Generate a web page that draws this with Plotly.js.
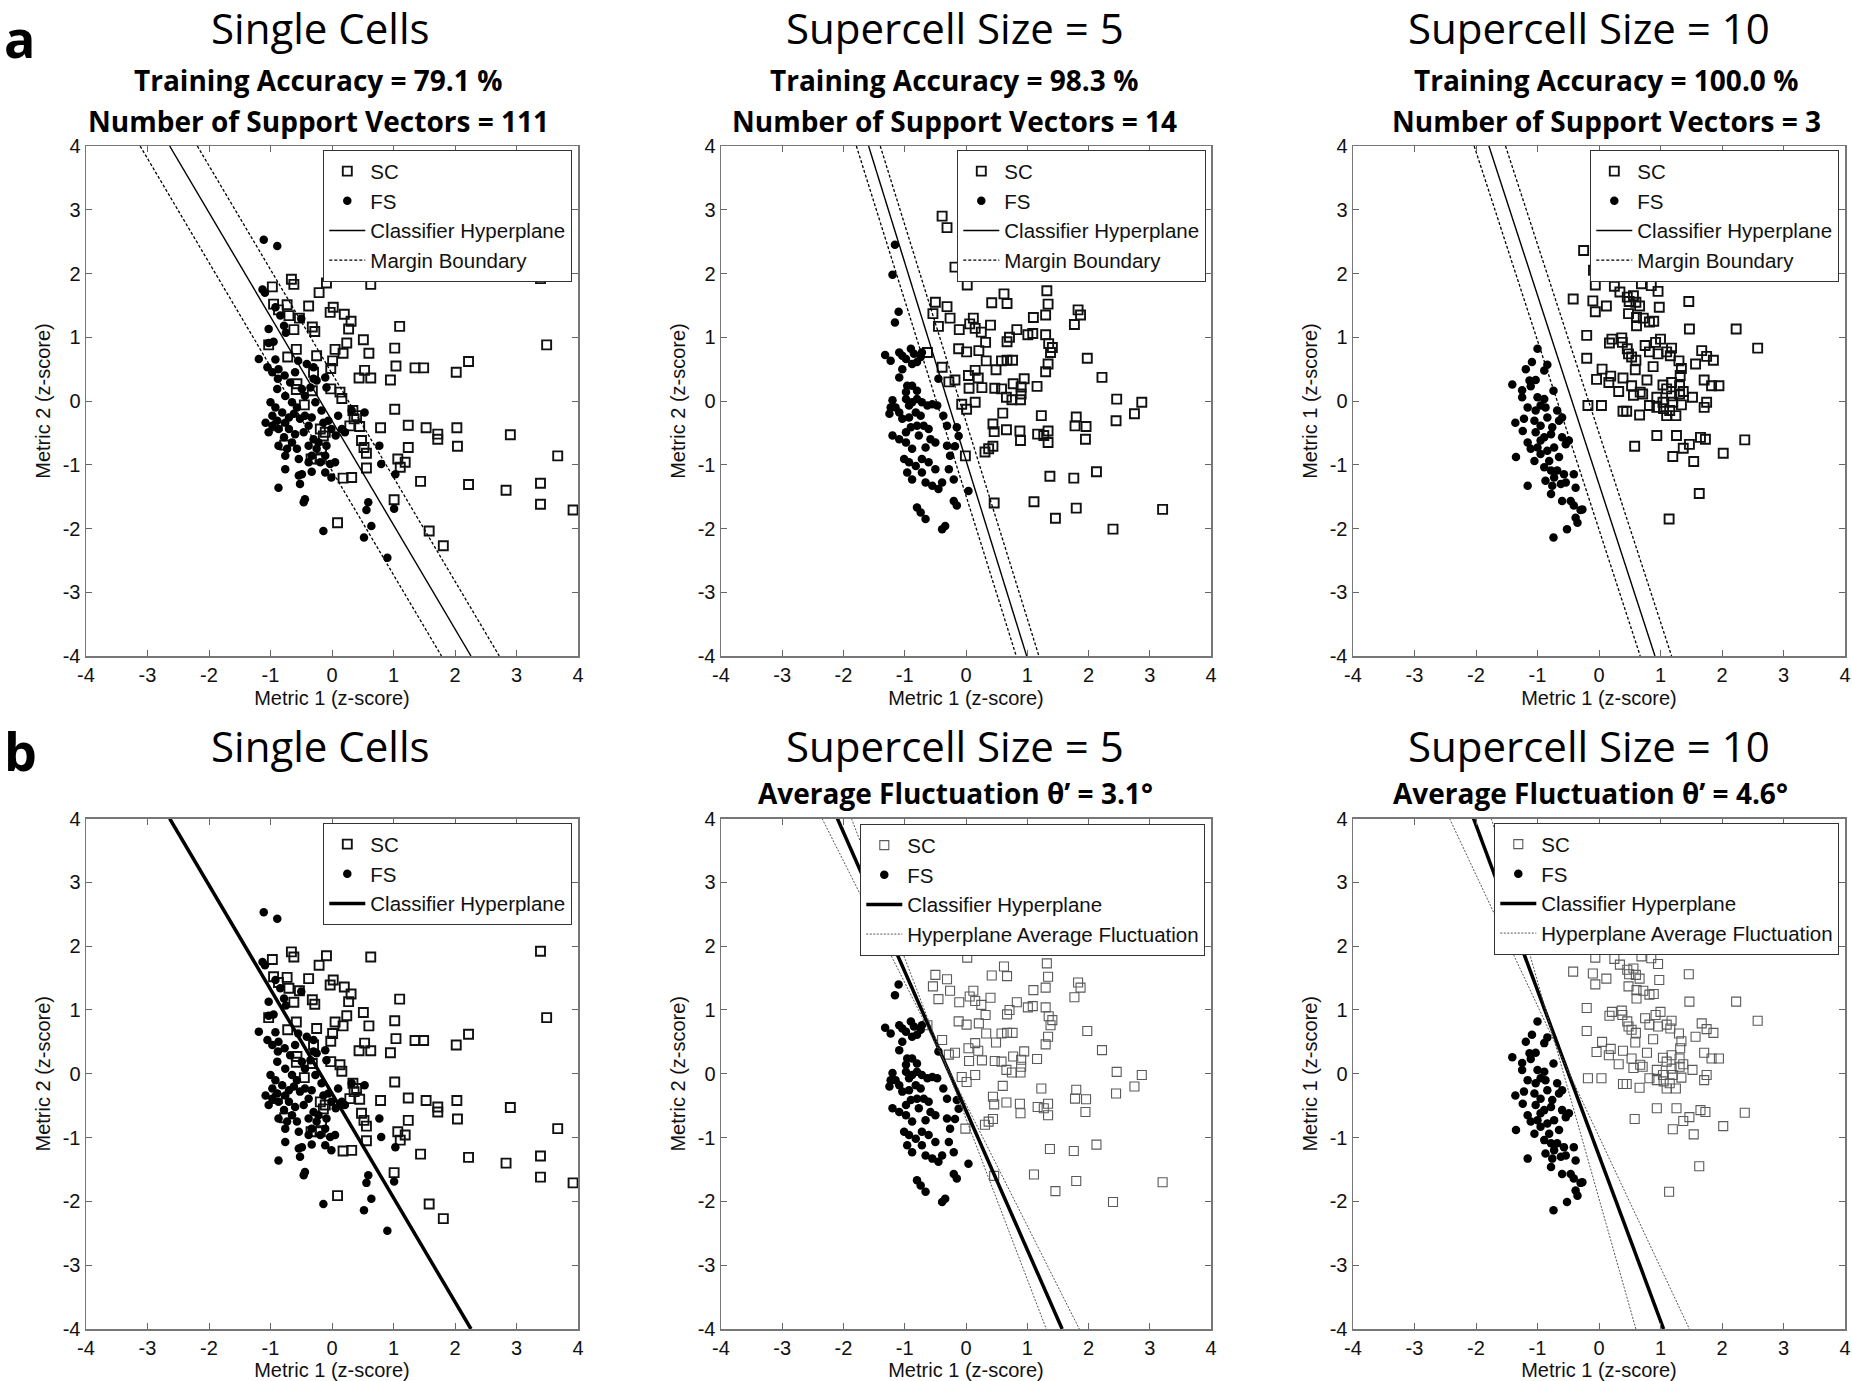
<!DOCTYPE html>
<html><head><meta charset="utf-8">
<script src="https://cdn.plot.ly/plotly-3.0.1.min.js"></script>
<style>html,body{margin:0;padding:0;background:#fff}#chart{width:1852px;height:1381px}</style>
</head><body><div id="chart"></div>
<script>
// ---------- DATA (z-scores) ----------
// Single cells: SC (squares) and FS (dots)
const singleSC = [
 [3.39,1.92],[1.10,1.17],[3.49,0.88],[1.02,0.83],[1.04,0.55],[1.35,0.52],[1.49,0.52],[2.02,0.45],[2.22,0.62],[1.02,-0.13],
 [1.24,-0.38],[1.53,-0.42],[1.72,-0.52],[1.72,-0.60],[2.03,-0.42],[2.04,-0.71],[2.90,-0.53],[1.24,-0.73],[1.07,-0.91],[1.11,-1.04],
 [1.19,-0.96],[1.44,-1.26],[2.22,-1.31],[2.83,-1.40],[3.39,-1.29],[3.39,-1.62],[3.67,-0.86],[3.92,-1.71],[1.58,-2.04],[1.81,-2.27],
 [1.01,-1.55],[-0.66,1.91],[-0.62,1.83],[-0.97,1.79],[-0.09,1.85],[0.63,1.83],[-0.21,1.70],[-0.95,1.52],[-0.73,1.51],[-0.38,1.49],
 [0.02,1.47],[-0.03,1.39],[0.20,1.36],[0.31,1.25],[0.27,1.13],[-0.87,1.43],[-0.70,1.34],[-0.53,1.30],[-0.32,1.16],[-0.28,1.09],
 [-0.62,1.12],[-1.03,0.88],[0.24,0.91],[0.05,0.81],[0.18,0.75],[0.51,0.96],[0.60,0.75],[-0.58,0.81],[-0.72,0.69],[0.01,0.63],
 [-0.02,0.51],[-0.25,0.71],[0.53,0.48],[0.44,0.36],[0.63,0.36],[0.95,0.33],[-0.30,0.45],[-0.57,0.27],[-0.58,0.18],[-0.32,0.16],
 [-0.02,0.19],[0.13,0.14],[0.16,0.04],[-0.45,-0.06],[0.34,-0.15],[0.40,-0.23],[0.36,-0.28],[0.79,-0.42],[0.45,-0.40],[0.29,-0.39],
 [-0.89,-0.39],[-0.19,-0.44],[-0.14,-0.55],[0.48,-0.62],[0.52,-0.73],[0.56,-0.82],[-0.77,-0.69],[-0.34,-0.91],[-0.19,-0.91],[-0.17,-0.75],
 [0.56,-1.05],[0.18,-1.21],[0.32,-1.20],[0.09,-1.91],[-0.11,-0.49]
];
const singleFS = [
 [-1.11,2.53],[-0.89,2.43],[-1.13,1.75],[-1.09,1.70],[-0.92,1.47],[-0.84,1.34],[-1.03,1.13],[-0.75,1.07],[-0.78,1.18],[-0.50,1.29],
 [-0.95,0.93],[-1.03,0.91],[-1.19,0.66],[-1.05,0.53],[-0.92,0.65],[-0.87,0.50],[-0.97,0.45],[-0.88,0.35],[-0.77,0.40],[-0.68,0.29],
 [-0.60,0.45],[-0.55,0.63],[-0.41,0.58],[-0.30,0.35],[-0.35,0.21],[-0.25,0.32],[-0.11,0.37],[-0.09,0.21],[-0.30,0.53],[-1.00,-0.02],
 [-0.92,-0.10],[-0.97,-0.23],[-0.89,-0.31],[-0.81,-0.18],[-0.76,-0.34],[-0.97,-0.39],[-0.87,-0.44],[-0.70,-0.26],[-0.62,-0.20],[-0.57,-0.10],
 [-0.52,-0.28],[-0.44,-0.23],[-0.38,-0.39],[-0.46,-0.49],[-0.60,-0.52],[-0.65,-0.65],[-0.73,-0.75],[-0.87,-0.70],[-0.78,-0.57],[-0.57,-0.75],
 [-0.38,-0.70],[-0.30,-0.60],[-0.25,-0.75],[-0.33,-0.86],[-0.22,-0.65],[-0.11,-0.86],[-0.03,-0.99],[-0.11,-1.12],[-0.01,-1.20],[0.05,-0.96],
 [-0.17,-0.15],[0.16,-0.44],[0.06,-0.54],[-0.09,-0.70],[0.32,-0.15],[0.53,-0.18],[-0.76,-1.07],[-0.54,-1.17],[-0.49,-1.15],[-0.33,-1.11],
 [-0.44,-1.54],[-0.46,-1.59],[-0.87,-1.36],[0.59,-1.59],[0.56,-1.71],[0.64,-1.96],[0.52,-2.14],[-0.14,-2.04],[0.77,-0.70],[0.80,-0.99],
 [1.03,-1.15],[1.01,-1.69],[0.90,-2.46],[-1.08,-0.34],[-1.03,-0.49],[-0.65,-0.02],[-0.76,0.08],[-0.44,0.08],[-0.49,0.19],[-0.27,-0.02],
 [-0.89,0.19],[-0.38,-0.96],[0.10,-0.23],[-0.33,-0.26],[-0.01,-0.44],[-0.06,-0.31],[-0.70,-0.44],[-0.76,-0.86],[-0.54,-0.91],[-0.52,-1.30],
 [-0.19,-0.96],[-0.14,-0.34],[0.21,-0.49]
];
// Supercell size = 5
const super5SC = [
 [-0.39,2.90],[-0.31,2.72],[-0.18,2.10],[0.02,1.82],[0.62,1.68],[0.67,1.53],[-0.50,1.55],[-0.31,1.48],[0.42,1.54],[-0.54,1.37],
 [-0.26,1.30],[-0.45,1.17],[0.12,1.30],[0.06,1.21],[0.15,1.14],[0.25,1.08],[0.40,1.19],[-0.11,1.12],[0.83,1.12],[0.67,0.93],
 [0.71,1.00],[1.01,1.04],[1.09,1.06],[1.10,1.31],[-0.12,0.82],[0.01,0.77],[0.21,0.79],[0.32,0.92],[0.33,0.63],[0.58,0.63],
 [0.67,0.64],[0.76,0.64],[0.49,0.49],[-0.63,0.76],[-0.39,0.53],[0.04,0.40],[0.15,0.48],[0.20,0.36],[-0.28,0.30],[-0.18,0.33],
 [0.05,0.20],[0.26,0.21],[0.47,0.20],[0.58,0.19],[0.66,0.06],[0.75,0.02],[0.89,0.02],[0.77,0.27],[0.90,0.22],[0.95,0.35],
 [0.90,0.11],[1.16,0.23],[-0.07,-0.05],[0.01,-0.13],[0.15,-0.02],[0.60,-0.19],[0.44,-0.36],[0.46,-0.48],[0.66,-0.45],[0.88,-0.47],
 [0.89,-0.62],[1.17,-0.52],[0.31,-0.80],[0.37,-0.75],[0.44,-0.71],[-0.01,-0.86],[0.46,-1.60],[1.11,-1.58],
 [1.45,1.98],[1.32,1.73],[1.34,1.52],[1.30,1.35],[1.83,1.43],[1.87,1.35],[1.77,1.20],[1.30,1.04],[1.35,0.90],[1.41,0.84],
 [1.38,0.76],[1.34,0.58],[1.30,0.46],[1.98,0.67],[2.22,0.37],[2.46,0.03],[2.87,-0.02],[2.75,-0.20],[2.45,-0.31],[1.23,-0.23],
 [1.80,-0.25],[1.78,-0.39],[1.96,-0.40],[1.95,-0.60],[1.34,-0.47],[1.27,-0.54],[1.34,-0.65],[1.37,-1.18],[1.76,-1.21],[2.13,-1.11],
 [1.46,-1.84],[1.80,-1.68],[2.40,-2.01],[3.21,-1.70]
];
const super5FS = [
 [-1.16,2.45],[-1.20,1.98],[-1.10,1.40],[-1.16,1.23],[-1.32,0.72],[-1.23,0.63],[-1.09,0.76],[-1.04,0.71],[-0.98,0.66],[-0.90,0.82],
 [-0.85,0.74],[-0.74,0.69],[-0.80,0.61],[-0.88,0.58],[-1.04,0.50],[-1.09,0.37],[-0.72,0.76],[-0.96,0.24],[-0.98,0.14],[-0.45,0.35],
 [-1.20,0.01],[-1.15,-0.10],[-1.09,-0.18],[-0.98,0.03],[-0.93,-0.07],[-0.88,-0.02],[-0.80,0.03],[-0.72,-0.02],[-0.63,-0.07],[-0.55,-0.05],
 [-0.47,-0.07],[-1.04,-0.28],[-0.93,-0.26],[-0.82,-0.18],[-0.74,-0.23],[-0.69,-0.39],[-0.80,-0.39],[-0.90,-0.41],[-0.98,-0.49],[-1.20,-0.54],
 [-1.09,-0.60],[-0.77,-0.54],[-0.61,-0.44],[-0.58,-0.60],[-0.66,-0.73],[-0.50,-0.65],[-0.37,-0.23],[-0.31,-0.39],[-0.15,-0.41],[-0.12,-0.55],
 [-0.31,-0.70],[-0.18,-0.71],[-0.26,-0.86],[-0.98,-0.65],[-0.88,-0.75],[-1.01,-0.91],[-0.93,-0.96],[-0.82,-1.02],[-0.72,-0.91],[-0.61,-0.96],
 [-0.96,-1.12],[-0.88,-1.23],[-0.72,-1.12],[-0.66,-1.28],[-0.55,-1.33],[-0.45,-1.38],[-0.50,-1.07],[-0.28,-1.07],[-0.20,-1.23],[-0.39,-1.28],
 [0.04,-1.41],[-0.20,-1.57],[-0.15,-1.64],[-0.80,-1.67],[-0.74,-1.75],[-0.66,-1.85],[-0.34,-1.96],[-0.39,-2.01],[-1.23,-0.10],[-1.25,-0.20],
 [-0.88,0.24],[-0.80,0.16]
];
// Supercell size = 10
const super10SC = [
 [-0.25,2.36],[-0.09,2.05],[0.30,1.98],[0.66,2.06],[1.17,2.01],[1.52,2.04],[-0.06,1.82],[0.25,1.80],[0.34,1.71],[0.69,1.84],
 [0.85,1.81],[0.96,1.72],[-0.42,1.60],[-0.10,1.57],[0.12,1.49],[0.46,1.63],[0.56,1.65],[0.49,1.56],[0.60,1.55],[0.66,1.49],
 [-0.06,1.40],[0.48,1.37],[0.61,1.31],[0.72,1.30],[0.82,1.24],[0.89,1.25],[0.61,1.18],[0.98,1.47],[1.46,1.56],[1.47,1.13],
 [2.23,1.13],[-0.20,1.03],[0.21,0.97],[0.17,0.91],[0.37,0.99],[0.38,0.92],[0.46,0.82],[0.48,0.74],[0.53,0.69],[0.60,0.64],
 [0.75,0.87],[0.82,0.77],[0.92,0.92],[1.00,0.97],[0.96,0.74],[1.10,0.77],[1.18,0.83],[1.16,0.71],[1.30,0.63],[1.34,0.51],
 [1.32,0.40],[0.88,0.54],[0.59,0.49],[-0.20,0.67],[0.05,0.50],[-0.04,0.34],[0.19,0.39],[0.39,0.36],[0.16,0.29],[0.78,0.33],
 [1.67,0.79],[1.75,0.70],[1.86,0.64],[1.57,0.58],[2.58,0.83],[1.71,0.33],[1.83,0.24],[1.95,0.24],[0.32,0.15],[0.53,0.24],
 [0.56,0.09],[0.67,0.14],[0.71,0.11],[1.04,0.25],[1.18,0.29],[1.10,0.19],[1.31,0.24],[1.37,0.15],[1.52,0.06],[0.94,0.06],
 [1.04,-0.02],[1.18,0.08],[1.31,0.11],[1.20,-0.02],[1.34,-0.06],[0.82,-0.07],[0.94,-0.10],[1.05,-0.12],[1.15,-0.15],[1.10,-0.23],
 [1.25,-0.23],[-0.18,-0.07],[0.04,-0.07],[0.39,-0.16],[0.45,-0.16],[0.66,-0.22],[1.71,-0.10],[1.75,-0.02],[0.94,-0.54],[1.26,-0.54],
 [1.65,-0.57],[1.73,-0.60],[2.37,-0.61],[0.58,-0.71],[1.37,-0.74],[1.47,-0.68],[1.20,-0.87],[1.54,-0.95],[2.02,-0.82],[1.63,-1.45],
 [1.14,-1.85]
];
const super10FS = [
 [-1.00,0.82],[-1.09,0.61],[-1.19,0.50],[-0.89,0.48],[-0.84,0.57],[-1.41,0.26],[-1.25,0.17],[-1.25,0.06],[-1.11,0.23],[-1.03,0.33],
 [-1.13,0.32],[-1.00,0.06],[-0.89,0.03],[-0.95,-0.07],[-0.87,-0.10],[-1.03,-0.15],[-1.16,-0.10],[-0.74,0.16],[-0.68,-0.15],[-0.60,-0.26],
 [-0.65,-0.31],[-1.36,-0.34],[-1.22,-0.28],[-1.05,-0.31],[-0.95,-0.39],[-0.84,-0.26],[-0.76,-0.41],[-1.03,-0.49],[-0.89,-0.57],[-0.78,-0.52],
 [-0.60,-0.57],[-0.54,-0.68],[-0.49,-0.62],[-1.16,-0.65],[-1.11,-0.75],[-1.00,-0.73],[-0.95,-0.83],[-0.84,-0.78],[-0.73,-0.73],[-0.65,-0.88],
 [-0.81,-0.94],[-1.35,-0.88],[-0.89,-1.04],[-0.78,-1.09],[-0.68,-1.09],[-0.57,-1.15],[-0.73,-1.20],[-0.87,-1.25],[-0.76,-1.33],[-0.62,-1.30],
 [-0.54,-1.28],[-0.41,-1.15],[-0.38,-1.36],[-1.16,-1.33],[-0.78,-1.46],[-0.60,-1.57],[-0.46,-1.57],[-0.41,-1.64],[-0.27,-1.70],[-0.30,-1.71],
 [-0.38,-1.83],[-0.35,-1.91],[-0.52,-2.01],[-0.74,-2.14],[-1.05,-0.94],[-0.95,-0.62],[-1.24,-0.47]
];
// Hyperplanes: endpoints of each line (x at y = 4 and y = -4)
const lineY = [4, -4];
const lineY2 = [4, -4, null, 4, -4];
const singleHyperX = [-2.64, 2.26];
const singleMarginX = [-3.12, 1.78, null, -2.19, 2.72];
const super5HyperX = [-1.59, 0.99];
const super5MarginX = [-1.79, 0.82, null, -1.40, 1.19];
const super10HyperX = [-1.79, 0.91];
const super10MarginX = [-2.03, 0.67, null, -1.52, 1.18];
const avg5HyperX = [-2.10, 1.57];
const avg5FluctX = [-2.35, 1.85, null, -1.87, 1.31];
const avg10HyperX = [-2.04, 1.05];
const avg10FluctX = [-2.43, 1.47, null, -1.75, 0.60];
// Text
const mainTitles = ['Single Cells', 'Supercell Size = 5', 'Supercell Size = 10'];
const accuracy = ['79.1', '98.3', '100.0'];
const supportVectors = ['111', '14', '3'];
const fluctuation = ['3.1', '4.6'];
const yTitles = ['Metric 2 (z-score)', 'Metric 2 (z-score)', 'Metric 1 (z-score)'];
const xTitle = 'Metric 1 (z-score)';
const tickVals = [-4, -3, -2, -1, 0, 1, 2, 3, 4];

// ---------- LAYOUT / STYLE ----------
const W = 1852, H = 1381;
const fx = p => p / W, fy = p => 1 - p / H;
const AX_FONT = 'Liberation Sans, Arial, sans-serif';
const TITLE_FONT = 'Open Sans, Noto Sans, sans-serif';
const colX = [[86, 578], [721, 1211], [1353, 1845]];
const rowY = [[146, 656], [818.5, 1329]];

const sqDark = {symbol: 'square-open', size: 9, color: '#111', line: {width: 1.9, color: '#111'}};
const sqLight = {symbol: 'square-open', size: 9, color: '#5a5a5a', line: {width: 1.1, color: '#5a5a5a'}};
const dot = {symbol: 'circle', size: 8.5, color: '#000', line: {width: 0}};

const xs = a => a.map(p => p[0]);
const ys = a => a.map(p => p[1]);

const datasets = [[singleSC, singleFS], [super5SC, super5FS], [super10SC, super10FS]];
const hyperA = [singleHyperX, super5HyperX, super10HyperX];
const marginA = [singleMarginX, super5MarginX, super10MarginX];

const traces = [];
const layout = {
  width: W, height: H, margin: {l: 0, r: 0, t: 0, b: 0},
  paper_bgcolor: '#fff', plot_bgcolor: '#fff', hovermode: false,
  annotations: [], showlegend: true
};

function legendCfg(rightPx, topPx) {
  return {x: fx(rightPx), y: fy(topPx), xanchor: 'right', yanchor: 'top',
    bgcolor: '#fff', bordercolor: '#333', borderwidth: 1.3,
    font: {family: AX_FONT, size: 20.5, color: '#111'}, tracegroupgap: 0, itemwidth: 36,
    traceorder: 'normal'};
}
const legendPos = [[572, 150], [1206, 150], [1839, 150], [572, 823], [1205, 824], [1839, 823]];

for (let r = 0; r < 2; r++) {
  for (let c = 0; c < 3; c++) {
    const k = r * 3 + c + 1;
    const xa = 'x' + (k === 1 ? '' : k), ya = 'y' + (k === 1 ? '' : k);
    const lg = 'legend' + (k === 1 ? '' : k);
    const axBase = {
      range: [-4, 4], tickvals: tickVals, ticktext: tickVals.map(String), ticks: 'inside', ticklen: 6, tickwidth: 1,
      tickcolor: '#666', showline: true, linecolor: '#777', linewidth: 1.5, mirror: 'ticks',
      showgrid: false, zeroline: false, fixedrange: true,
      tickfont: {family: AX_FONT, size: 20, color: '#111'}
    };
    layout['xaxis' + (k === 1 ? '' : k)] = Object.assign({}, axBase, {
      domain: [fx(colX[c][0]), fx(colX[c][1])], anchor: ya,
      title: {text: xTitle, font: {family: AX_FONT, size: 20, color: '#111'}, standoff: 6}
    });
    layout['yaxis' + (k === 1 ? '' : k)] = Object.assign({}, axBase, {
      domain: [fy(rowY[r][1]), fy(rowY[r][0])], anchor: xa,
      title: {text: yTitles[c], font: {family: AX_FONT, size: 20, color: '#111'}, standoff: 6}
    });
    layout[lg] = legendCfg(legendPos[k - 1][0], legendPos[k - 1][1]);

    const [sc, fs] = datasets[c];
    const sqStyle = (r === 1 && c > 0) ? sqLight : sqDark;
    traces.push({type: 'scatter', mode: 'markers', name: 'SC', x: xs(sc), y: ys(sc), xaxis: xa, yaxis: ya, legend: lg, marker: sqStyle, cliponaxis: true});
    traces.push({type: 'scatter', mode: 'markers', name: 'FS', x: xs(fs), y: ys(fs), xaxis: xa, yaxis: ya, legend: lg, marker: dot, cliponaxis: true});
    if (r === 0) {
      traces.push({type: 'scatter', mode: 'lines', name: 'Classifier Hyperplane', x: hyperA[c], y: lineY, xaxis: xa, yaxis: ya, legend: lg, line: {color: '#000', width: 1.4}});
      traces.push({type: 'scatter', mode: 'lines', name: 'Margin Boundary', x: marginA[c], y: lineY2, xaxis: xa, yaxis: ya, legend: lg, line: {color: '#000', width: 1.3, dash: '3px,2px'}, connectgaps: false});
    } else if (c === 0) {
      traces.push({type: 'scatter', mode: 'lines', name: 'Classifier Hyperplane', x: singleHyperX, y: lineY, xaxis: xa, yaxis: ya, legend: lg, line: {color: '#000', width: 3.5}});
    } else {
      const hx = c === 1 ? avg5HyperX : avg10HyperX;
      const fxl = c === 1 ? avg5FluctX : avg10FluctX;
      traces.push({type: 'scatter', mode: 'lines', name: 'Classifier Hyperplane', x: hx, y: lineY, xaxis: xa, yaxis: ya, legend: lg, line: {color: '#000', width: 3.5}});
      traces.push({type: 'scatter', mode: 'lines', name: 'Hyperplane Average Fluctuation', x: fxl, y: lineY2, xaxis: xa, yaxis: ya, legend: lg, line: {color: '#555', width: 1, dash: '2px,1.5px'}, connectgaps: false});
    }
  }
}

// Titles
const ann = layout.annotations;
function addText(text, xpx, ypx, size, bold, anchor, yanch) {
  ann.push({text: text, xref: 'paper', yref: 'paper', x: fx(xpx), y: fy(ypx), xanchor: anchor || 'center', yanchor: yanch || 'middle',
    showarrow: false, font: {family: TITLE_FONT, size: size, color: '#000', weight: bold ? 700 : 400}});
}
const titleX = [320, 955, 1589];
const subX = [318, 954, 1606];
for (let c = 0; c < 3; c++) {
  addText(mainTitles[c], titleX[c], 28, 42, false);
  addText('Training Accuracy = ' + accuracy[c] + ' %', subX[c], 80, 28, true);
  addText('Number of Support Vectors = ' + supportVectors[c], subX[c], 121, 28, true);
  addText(mainTitles[c], titleX[c], 745, 42, false);
}
addText('Average Fluctuation θ’ = ' + fluctuation[0] + '°', 955, 793, 28, true);
addText('Average Fluctuation θ’ = ' + fluctuation[1] + '°', 1590, 793, 28, true);
addText('a', 2, 0, 52, true, 'left', 'top');
addText('b', 2, 750, 52, true, 'left');

Plotly.newPlot('chart', traces, layout, {staticPlot: true, displayModeBar: false});
</script>
</body></html>
